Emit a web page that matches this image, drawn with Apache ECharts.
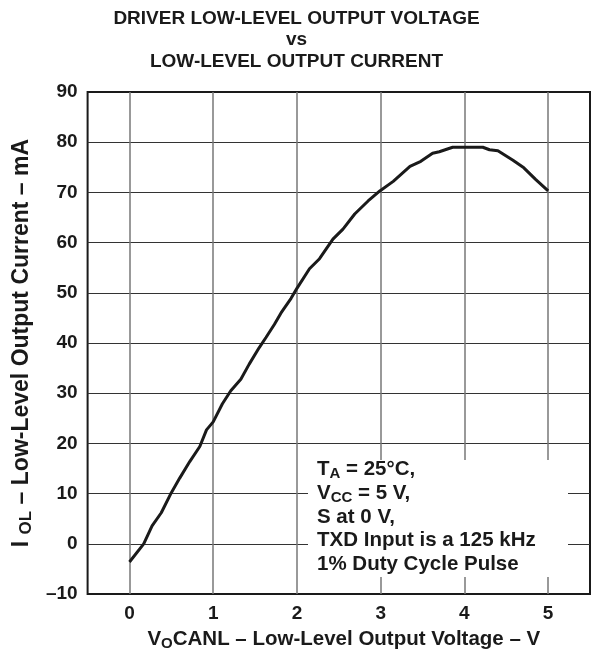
<!DOCTYPE html>
<html><head><meta charset="utf-8">
<script src="https://cdn.jsdelivr.net/npm/echarts@6/dist/echarts.min.js"></script>
<style>html,body{margin:0;padding:0;background:#fff}#c{width:593px;height:656px}</style>
</head><body><div id="c"></div>
<script>
// Data
const voltage = [0, 0.17, 0.27, 0.38, 0.50, 0.60, 0.72, 0.84, 0.92, 1.00, 1.11, 1.21, 1.33, 1.43, 1.55, 1.63, 1.73, 1.81, 1.93, 2.00, 2.15, 2.27, 2.43, 2.55, 2.69, 2.85, 2.99, 3.15, 3.35, 3.48, 3.62, 3.70, 3.86, 4.02, 4.22, 4.30, 4.40, 4.58, 4.71, 4.85, 5.00];
const current = [-3.6, 0, 3.6, 6.2, 10.2, 13.1, 16.4, 19.4, 22.7, 24.3, 27.9, 30.5, 32.8, 35.8, 39.1, 41.1, 43.7, 46.0, 48.9, 50.9, 54.8, 56.8, 60.7, 62.7, 65.7, 68.3, 70.3, 72.2, 75.2, 76.2, 77.8, 78.1, 79.0, 79.0, 79.0, 78.5, 78.3, 76.4, 74.9, 72.6, 70.3];
const xTickLabels = [0, 1, 2, 3, 4, 5];
const yTickLabels = [-10, 0, 10, 20, 30, 40, 50, 60, 70, 80, 90];
const titleLines = ['DRIVER LOW-LEVEL OUTPUT VOLTAGE', 'vs', 'LOW-LEVEL OUTPUT CURRENT'];
const noteLines = ['T{sub|A} = 25°C,', 'V{sub|CC} = 5 V,', 'S at 0 V,', 'TXD Input is a 125 kHz', '1% Duty Cycle Pulse'];

const FONT = "'Liberation Sans', Arial, Helvetica, sans-serif";
const INK = '#1a1a1a';
const FS = 19;

const chart = echarts.init(document.getElementById('c'), null, {renderer: 'canvas'});
const points = voltage.map((v, i) => [v, current[i]]);

chart.setOption({
  animation: false,
  backgroundColor: '#fff',
  title: {
    text: titleLines.join('\n'),
    left: 'center', top: 8, padding: 0,
    textStyle: {fontFamily: FONT, fontWeight: 'bold', fontSize: FS, lineHeight: 21.5, color: INK}
  },
  grid: {left: 87, right: 1, top: 92, bottom: 57, show: true, borderColor: INK, borderWidth: 2, backgroundColor: 'transparent'},
  xAxis: {
    type: 'value', min: -0.5, max: 5.5, interval: 0.5,
    axisLine: {show: false}, axisTick: {show: false},
    axisLabel: {
      margin: 10, fontFamily: FONT, fontWeight: 'bold', fontSize: FS, color: INK,
      formatter: v => (xTickLabels.indexOf(v) >= 0 ? String(v) : '')
    },
    splitLine: {show: true, lineStyle: {color: ['rgba(0,0,0,0)', '#777'], width: 1.5}},
    name: 'V{sub|O}CANL – Low-Level Output Voltage – V',
    nameLocation: 'middle', nameGap: 29,
    nameTextStyle: {
      fontFamily: FONT, fontWeight: 'bold', fontSize: 20.5, color: INK, lineHeight: 23, padding: [0, 0, 0, 10],
      rich: {sub: {fontFamily: FONT, fontWeight: 'bold', fontSize: 15, color: INK, lineHeight: 15, verticalAlign: 'bottom'}}
    }
  },
  yAxis: {
    type: 'value', min: -10, max: 90, interval: 10,
    axisLine: {show: false}, axisTick: {show: false},
    axisLabel: {
      margin: 10, fontFamily: FONT, fontWeight: 'bold', fontSize: FS, color: INK,
      formatter: v => (yTickLabels.indexOf(v) >= 0 ? (v < 0 ? '–' + Math.abs(v) : String(v)) : '')
    },
    splitLine: {show: true, showMinLine: false, showMaxLine: false, lineStyle: {color: '#333', width: 1.2}},
    name: 'I {sub|OL} – Low-Level Output Current – mA',
    nameLocation: 'middle', nameGap: 45,
    nameTextStyle: {
      fontFamily: FONT, fontWeight: 'bold', fontSize: 23, color: INK, lineHeight: 27,
      rich: {sub: {fontFamily: FONT, fontWeight: 'bold', fontSize: 17, color: INK, lineHeight: 17, verticalAlign: 'bottom'}}
    }
  },
  series: [{
    type: 'line', data: points, showSymbol: false, smooth: false, z: 10,
    lineStyle: {color: INK, width: 3}
  }],
  graphic: [
    {type: 'rect', left: 308, top: 460, z: 50, shape: {width: 260, height: 117}, style: {fill: '#fff'}},
    {type: 'text', left: 317, top: 458, z: 51, style: {
      text: noteLines.join('\n'), fill: INK,
      fontFamily: FONT, fontWeight: 'bold', fontSize: 20.5, lineHeight: 23.6,
      rich: {sub: {fontFamily: FONT, fontWeight: 'bold', fontSize: 15, fill: INK, lineHeight: 15, verticalAlign: 'bottom'}}
    }}
  ]
});
</script>
</body></html>
